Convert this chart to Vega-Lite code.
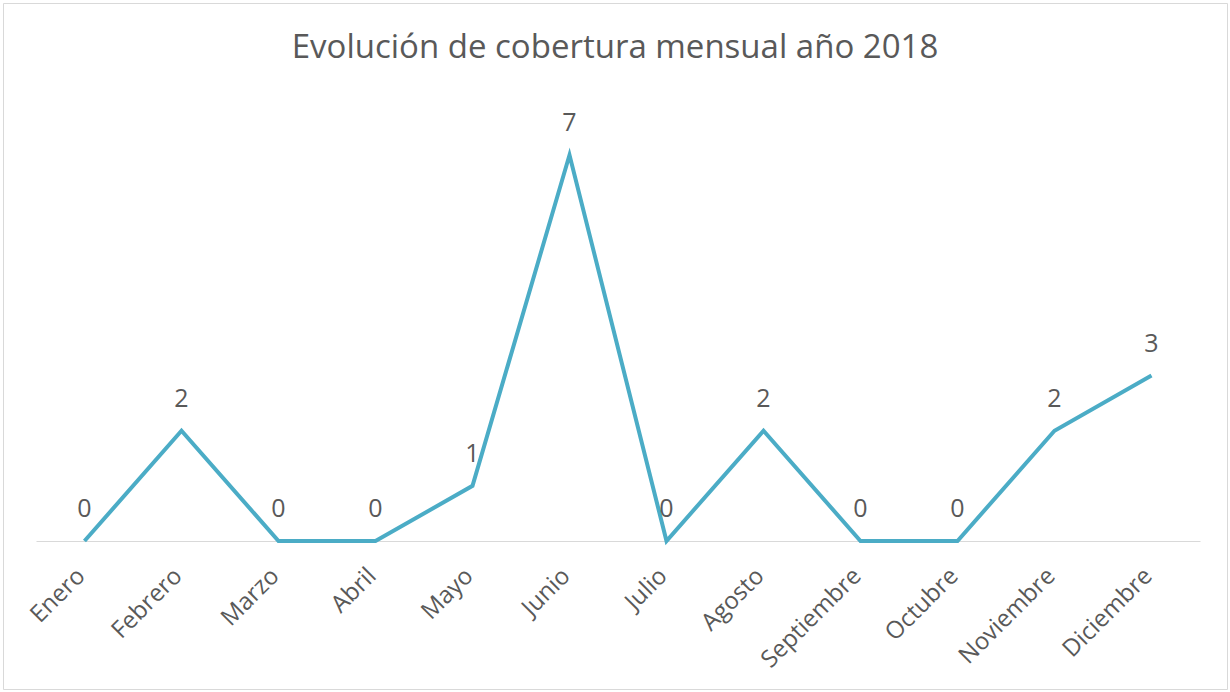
{
  "$schema": "https://vega.github.io/schema/vega-lite/v6.json",
  "autosize": "none",
  "width": 1224,
  "height": 686,
  "padding": {"left": 3, "top": 3, "right": 3, "bottom": 3},
  "background": "white",
  "config": {
    "view": {"stroke": "#d9d9d9", "strokeWidth": 1},
    "font": "Open Sans"
  },
  "title": {
    "text": "Evolución de cobertura mensual año 2018",
    "anchor": "middle",
    "frame": "group",
    "orient": "top",
    "offset": -62,
    "font": "Open Sans",
    "fontSize": 33,
    "fontWeight": "normal",
    "color": "#595959"
  },
  "data": {
    "values": [
      {"mes": "Enero", "valor": 0},
      {"mes": "Febrero", "valor": 2},
      {"mes": "Marzo", "valor": 0},
      {"mes": "Abril", "valor": 0},
      {"mes": "Mayo", "valor": 1},
      {"mes": "Junio", "valor": 7},
      {"mes": "Julio", "valor": 0},
      {"mes": "Agosto", "valor": 2},
      {"mes": "Septiembre", "valor": 0},
      {"mes": "Octubre", "valor": 0},
      {"mes": "Noviembre", "valor": 2},
      {"mes": "Diciembre", "valor": 3}
    ]
  },
  "encoding": {
    "x": {
      "field": "mes",
      "type": "nominal",
      "sort": null,
      "scale": {"type": "band", "range": [33, 1197], "paddingInner": 0, "paddingOuter": 0},
      "axis": {
        "title": null,
        "labelAngle": -45,
        "labelAlign": "right",
        "labelBaseline": "middle",
        "labelFontSize": 24,
        "labelColor": "#595959",
        "labelFont": "Open Sans",
        "labelPadding": 31,
        "labelOffset": -3,
        "ticks": false,
        "domainColor": "#d9d9d9",
        "domainWidth": 1,
        "grid": false,
        "offset": -148
      }
    },
    "y": {
      "field": "valor",
      "type": "quantitative",
      "scale": {"domain": [-2.684, 9.757], "nice": false, "zero": false},
      "axis": null
    }
  },
  "layer": [
    {
      "mark": {"type": "line", "color": "#4BACC6", "strokeWidth": 4, "strokeJoin": "miter", "strokeCap": "butt"}
    },
    {
      "mark": {"type": "text", "dy": -24, "baseline": "alphabetic", "fontSize": 25, "color": "#595959", "font": "Open Sans"},
      "encoding": {"text": {"field": "valor", "type": "quantitative"}}
    }
  ]
}
